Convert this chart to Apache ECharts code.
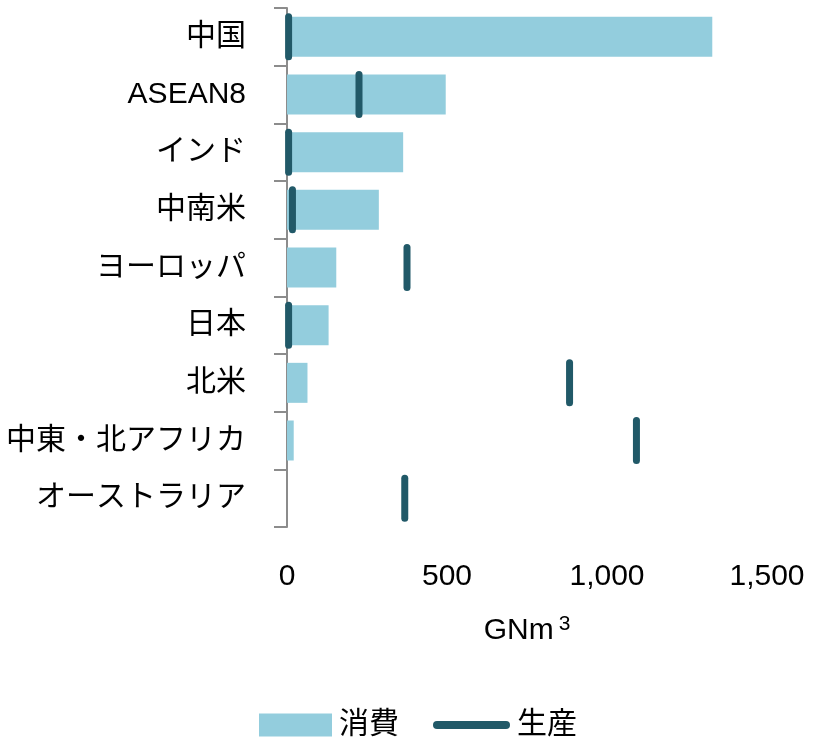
<!DOCTYPE html>
<html><head><meta charset="utf-8">
<script src="https://cdn.jsdelivr.net/npm/echarts@6/dist/echarts.min.js"></script>
<style>html,body{margin:0;padding:0;background:#fff}#c{width:819px;height:745px}</style>
</head><body><div id="c"></div>
<script>
const categories = ['中国','ASEAN8','インド','中南米','ヨーロッパ','日本','北米','中東・北アフリカ','オーストラリア'];
const consumption = [1329, 496, 363, 287, 154, 130, 64, 21, 0];
const production = [5, 225, 5, 17, 375, 5, 883, 1092, 368];
const xTicks = [0, 500, 1000, 1500];

const FONT = '"Liberation Sans", "Noto Sans CJK JP", sans-serif';
const DARK = '#215968';
const LIGHT = '#93CDDD';
const chart = echarts.init(document.getElementById('c'));
chart.setOption({
  animation: false,
  textStyle: { fontFamily: FONT },
  grid: { left: 287, right: 52, top: 8, bottom: 218, containLabel: false },
  legend: [
    { data: [{ name: '消費', icon: 'rect' }], left: 259, top: 710, padding: 0, itemWidth: 73, itemHeight: 23, itemGap: 0,
      textStyle: { fontSize: 30, color: '#000', fontFamily: FONT, padding: [0, 0, 0, 2] } },
    { data: [{ name: '生産', icon: 'path://M4,0 L73,0 A4,4 0 0 1 73,8 L4,8 A4,4 0 0 1 4,0 Z' }],
      left: 433, top: 710, padding: 0, itemWidth: 77, itemHeight: 8,
      textStyle: { fontSize: 30, color: '#000', fontFamily: FONT, padding: [0, 0, 0, 2] } }
  ],
  xAxis: {
    type: 'value', min: xTicks[0], max: xTicks[xTicks.length - 1], interval: 500,
    axisLine: { show: false }, axisTick: { show: false }, splitLine: { show: false },
    axisLabel: { fontSize: 30, color: '#000', margin: 35, fontFamily: FONT,
      formatter: v => v.toLocaleString('en-US') },
    name: 'GNm{sup|3}', nameLocation: 'middle', nameGap: 87,
    nameTextStyle: { fontSize: 30, color: '#000', fontFamily: FONT,
      rich: { sup: { fontSize: 21, verticalAlign: 'top', padding: [0, 0, 12, 5], color: '#000', fontFamily: FONT } } }
  },
  yAxis: {
    type: 'category', data: categories, inverse: true,
    axisLine: { show: true, lineStyle: { color: '#8c8c8c', width: 2 } },
    axisTick: { show: true, length: 13, lineStyle: { color: '#8c8c8c', width: 2 } },
    axisLabel: { fontSize: 30, color: '#000', margin: 41, fontFamily: FONT }
  },
  series: [
    { name: '消費', type: 'bar', data: consumption, barWidth: 40,
      itemStyle: { color: LIGHT } },
    { name: '生産', type: 'scatter', data: production,
      symbol: 'path://M0,3.5 A3.5,3.5 0 0 1 7,3.5 L7,43.5 A3.5,3.5 0 0 1 0,43.5 Z',
      symbolSize: [7, 47], itemStyle: { color: DARK, opacity: 1 }, z: 5 }
  ]
});
</script></body></html>
